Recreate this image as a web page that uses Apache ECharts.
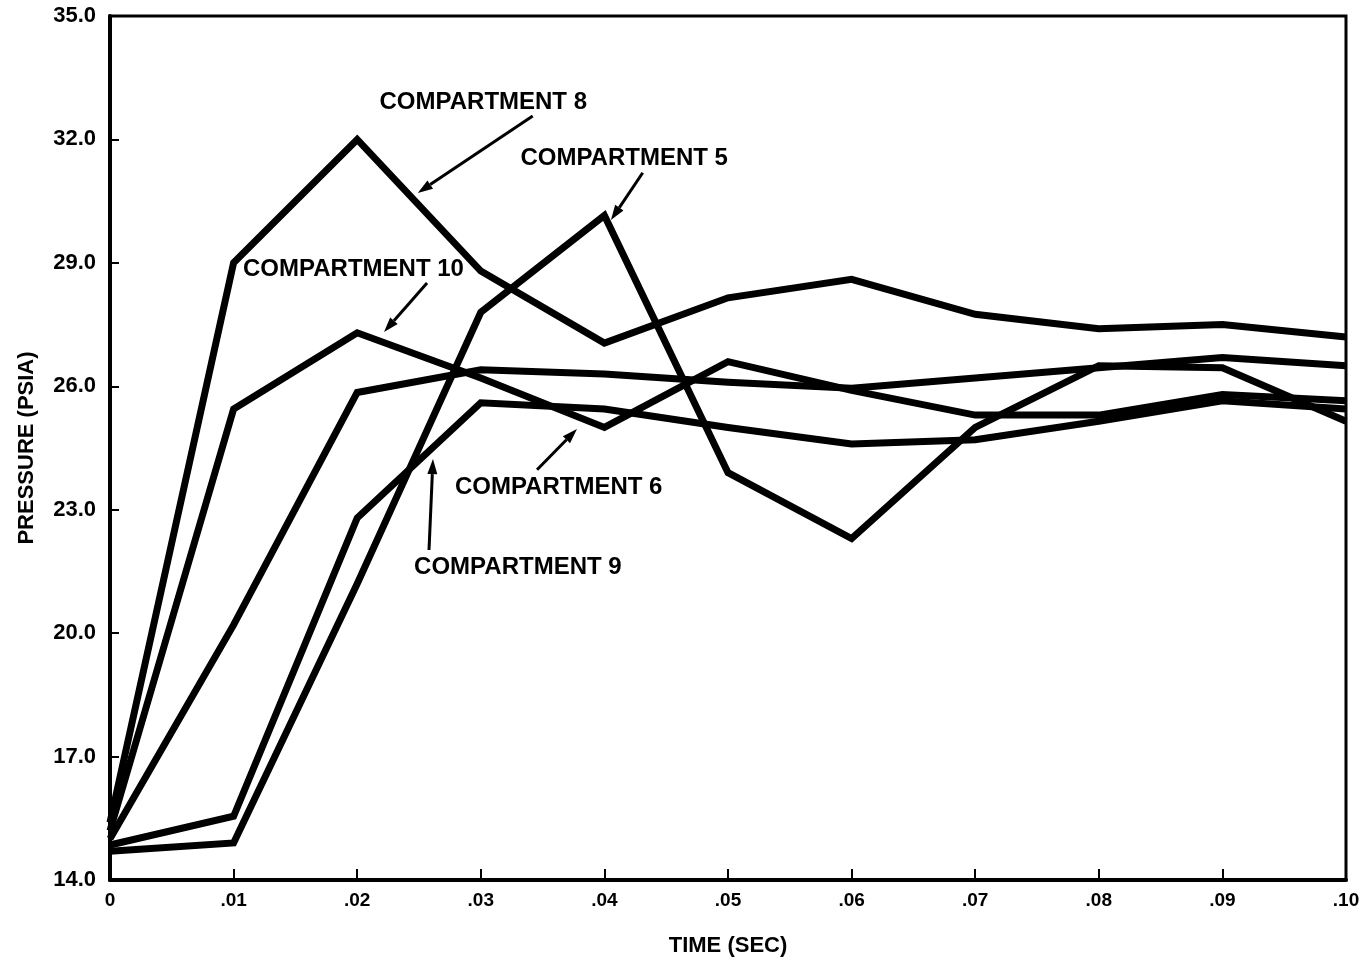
<!DOCTYPE html>
<html><head><meta charset="utf-8">
<script src="https://cdn.jsdelivr.net/npm/echarts@6/dist/echarts.min.js"></script>
<style>html,body{margin:0;padding:0;background:#fff}#c{width:1361px;height:961px}</style>
</head><body><div id="c"></div>
<script>
// time (s)
const times = [0, 0.01, 0.02, 0.03, 0.04, 0.05, 0.06, 0.07, 0.08, 0.09, 0.10];
// pressure (psia)
const comp8  = [15.4, 29.0, 32.0, 28.8, 27.05, 28.15, 28.6, 27.75, 27.4, 27.5, 27.2];
const comp5  = [14.7, 14.9, 21.2, 27.8, 30.15, 23.9, 22.3, 25.0, 26.5, 26.45, 25.15];
const comp10 = [15.2, 25.45, 27.3, 26.2, 25.0, 26.6, 25.9, 25.3, 25.3, 25.8, 25.65];
const comp9  = [14.85, 15.55, 22.8, 25.6, 25.45, 25.0, 24.6, 24.7, 25.15, 25.65, 25.45];
const comp6  = [15.0, 20.2, 25.85, 26.4, 26.3, 26.1, 25.95, 26.2, 26.45, 26.7, 26.5];

const xTickLabels = ['0', '.01', '.02', '.03', '.04', '.05', '.06', '.07', '.08', '.09', '.10'];
const yTickLabels = ['14.0', '17.0', '20.0', '23.0', '26.0', '29.0', '32.0', '35.0'];

// annotations (data coordinates)
const noteText  = ['COMPARTMENT 8', 'COMPARTMENT 5', 'COMPARTMENT 10', 'COMPARTMENT 6', 'COMPARTMENT 9'];
const notePos   = [[0.0302, 32.89], [0.0416, 31.55], [0.0197, 28.83], [0.0363, 23.55], [0.0330, 21.61]];
const arrowFrom = [[0.0342, 32.57], [0.0431, 31.19], [0.02565, 28.51], [0.03455, 23.97], [0.02581, 22.02]];
const arrowTo   = [[0.0249, 30.70], [0.04053, 30.04], [0.02217, 27.32], [0.03778, 24.96], [0.02613, 24.23]];

const FONT = '"Liberation Sans", Arial, Helvetica, sans-serif';
const pair = arr => times.map((t, i) => [t, arr[i]]);
const mkSeries = (name, arr) => ({
  name, type: 'line', data: pair(arr), symbol: 'none', silent: true, animation: false,
  lineStyle: { color: '#000', width: 7, join: 'miter', miterLimit: 6 }
});

const chart = echarts.init(document.getElementById('c'), null, { renderer: 'canvas' });
chart.setOption({
  backgroundColor: '#fff',
  animation: false,
  grid: { left: 110, right: 15, top: 16, bottom: 81, show: true, borderColor: '#000', borderWidth: 3,
          containLabel: false, outerBoundsMode: 'none' },
  xAxis: {
    type: 'value', min: 0, max: 0.1, interval: 0.01,
    name: 'TIME (SEC)', nameLocation: 'middle', nameGap: 55,
    nameTextStyle: { fontFamily: FONT, fontSize: 22, fontWeight: 'bold', color: '#000' },
    axisLine: { show: true, onZero: false, lineStyle: { color: '#000', width: 4 } },
    axisTick: { show: true, inside: true, length: 11, lineStyle: { color: '#000', width: 2 } },
    axisLabel: { margin: 11, fontFamily: FONT, fontSize: 19, fontWeight: 'bold', color: '#000',
      formatter: v => xTickLabels[Math.round(v / 0.01)] },
    splitLine: { show: false }
  },
  yAxis: {
    type: 'value', min: 14, max: 35, interval: 3,
    name: 'PRESSURE (PSIA)', nameLocation: 'middle', nameGap: 72, nameRotate: 90,
    nameTextStyle: { fontFamily: FONT, fontSize: 22, fontWeight: 'bold', color: '#000' },
    axisLine: { show: true, onZero: false, lineStyle: { color: '#000', width: 4 } },
    axisTick: { show: true, inside: true, length: 9, lineStyle: { color: '#000', width: 2 } },
    axisLabel: { margin: 14, fontFamily: FONT, fontSize: 22, fontWeight: 'bold', color: '#000',
      formatter: v => yTickLabels[Math.round((v - 14) / 3)] },
    splitLine: { show: false }
  },
  series: [
    mkSeries('COMPARTMENT 8', comp8),
    mkSeries('COMPARTMENT 5', comp5),
    mkSeries('COMPARTMENT 10', comp10),
    mkSeries('COMPARTMENT 9', comp9),
    mkSeries('COMPARTMENT 6', comp6)
  ]
});

const toPx = p => chart.convertToPixel({ gridIndex: 0 }, p);
const graphics = [];
noteText.forEach((txt, i) => {
  const p = toPx(notePos[i]);
  graphics.push({
    type: 'text', silent: true, z: 100,
    style: { text: txt, x: p[0], y: p[1], font: 'bold 24px ' + FONT, fill: '#000',
      textAlign: 'center', textVerticalAlign: 'middle', align: 'center', verticalAlign: 'middle' }
  });
  const a = toPx(arrowFrom[i]), b = toPx(arrowTo[i]);
  const dx = b[0] - a[0], dy = b[1] - a[1], len = Math.hypot(dx, dy);
  const ux = dx / len, uy = dy / len, L = 15, W = 5;
  const bx = b[0] - ux * L, by = b[1] - uy * L;
  graphics.push({
    type: 'line', silent: true, z: 100,
    shape: { x1: a[0], y1: a[1], x2: bx, y2: by },
    style: { stroke: '#000', lineWidth: 3 }
  });
  graphics.push({
    type: 'polygon', silent: true, z: 100,
    shape: { points: [[b[0], b[1]], [bx - uy * W, by + ux * W], [bx + uy * W, by - ux * W]] },
    style: { fill: '#000' }
  });
});
chart.setOption({ graphic: graphics });
</script>
</body></html>
